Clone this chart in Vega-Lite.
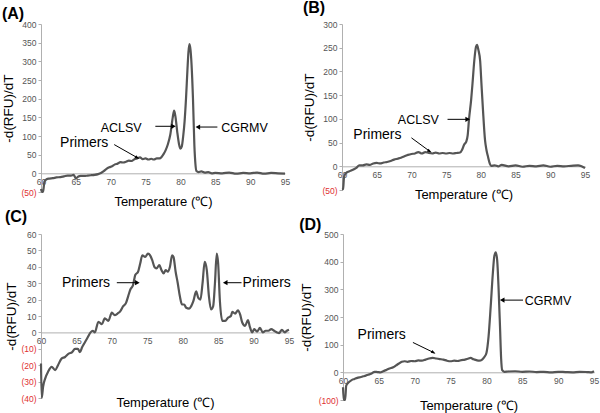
{
  "$schema": "https://vega.github.io/schema/vega-lite/v6.json",
  "padding": {"left": 1, "top": 0, "right": 1, "bottom": 0},
  "background": "white",
  "config": {
    "view": {"stroke": null},
    "font": "Liberation Sans",
    "title": {"anchor": "start", "fontSize": 16, "fontWeight": "bold", "color": "black", "frame": "bounds"},
    "axisX": {"values": [60, 65, 70, 75, 80, 85, 90, 95], "ticks": false, "domainColor": "#b0b0b0", "domainWidth": 1, "labelFontSize": 8.5, "labelColor": "#555", "labelPadding": 4, "labelFlush": false, "labelOverlap": false, "grid": false, "titleFontSize": 13, "titleFontWeight": "normal", "titleColor": "black", "titleBaseline": "alphabetic"},
    "axisY": {"labelExpr": "datum.value < 0 ? '(' + abs(datum.value) + ')' : datum.label", "labelColor": {"condition": {"test": "datum.value < 0", "value": "#e03030"}, "value": "#555"}, "labelFontSize": 8.5, "labelOverlap": false, "labelBound": false, "domainColor": "#b0b0b0", "tickColor": "#b0b0b0", "tickSize": 3, "grid": false, "titleFontSize": 13.5, "titleFontWeight": "normal", "titleColor": "black", "titlePadding": 5}
  },
  "datasets": {
    "curveA": [
      {"t": 60.0, "v": -42}, {"t": 60.15, "v": -50}, {"t": 60.3, "v": -48}, {"t": 60.5, "v": -22}, {"t": 60.8, "v": -16}, {"t": 61.2, "v": -14}, {"t": 61.7, "v": -13}, {"t": 62.2, "v": -11}, {"t": 62.8, "v": -10}, {"t": 63.3, "v": -8}, {"t": 63.8, "v": -6}, {"t": 64.3, "v": -6}, {"t": 64.7, "v": -4}, {"t": 65.0, "v": -14}, {"t": 65.3, "v": -9}, {"t": 65.7, "v": -7}, {"t": 66.2, "v": -7}, {"t": 66.7, "v": -6}, {"t": 67.2, "v": -5}, {"t": 67.7, "v": -4}, {"t": 68.2, "v": -2}, {"t": 68.6, "v": 1}, {"t": 69.0, "v": 6}, {"t": 69.4, "v": 12}, {"t": 69.8, "v": 16}, {"t": 70.2, "v": 19}, {"t": 70.6, "v": 24}, {"t": 71.0, "v": 26}, {"t": 71.4, "v": 30}, {"t": 71.8, "v": 29}, {"t": 72.2, "v": 31}, {"t": 72.6, "v": 34}, {"t": 73.0, "v": 33}, {"t": 73.4, "v": 38}, {"t": 73.8, "v": 40}, {"t": 74.2, "v": 43}, {"t": 74.6, "v": 38}, {"t": 75.0, "v": 40}, {"t": 75.4, "v": 37}, {"t": 75.8, "v": 39}, {"t": 76.2, "v": 37}, {"t": 76.6, "v": 40}, {"t": 77.0, "v": 40}, {"t": 77.3, "v": 44}, {"t": 77.6, "v": 52}, {"t": 77.9, "v": 63}, {"t": 78.2, "v": 78}, {"t": 78.55, "v": 104}, {"t": 78.9, "v": 150}, {"t": 79.1, "v": 168}, {"t": 79.3, "v": 150}, {"t": 79.55, "v": 110}, {"t": 79.8, "v": 78}, {"t": 80.0, "v": 66}, {"t": 80.2, "v": 72}, {"t": 80.4, "v": 100}, {"t": 80.6, "v": 140}, {"t": 80.8, "v": 200}, {"t": 81.0, "v": 275}, {"t": 81.15, "v": 325}, {"t": 81.3, "v": 346}, {"t": 81.45, "v": 330}, {"t": 81.6, "v": 290}, {"t": 81.8, "v": 200}, {"t": 82.0, "v": 75}, {"t": 82.15, "v": 25}, {"t": 82.3, "v": 6}, {"t": 82.6, "v": 3}, {"t": 83.0, "v": 5}, {"t": 83.5, "v": 2}, {"t": 84.0, "v": 3}, {"t": 84.5, "v": 0}, {"t": 85.0, "v": 1}, {"t": 86.0, "v": 0}, {"t": 87.0, "v": 2}, {"t": 88.0, "v": -1}, {"t": 89.0, "v": 1}, {"t": 90.0, "v": 0}, {"t": 91.0, "v": 2}, {"t": 92.0, "v": -1}, {"t": 93.0, "v": 1}, {"t": 94.0, "v": 0}, {"t": 95.0, "v": -1}
    ],
    "curveB": [
      {"t": 60.0, "v": -49}, {"t": 60.15, "v": -48}, {"t": 60.3, "v": -22}, {"t": 60.6, "v": -14}, {"t": 61.0, "v": -11}, {"t": 61.5, "v": -8}, {"t": 62.0, "v": -4}, {"t": 62.5, "v": 2}, {"t": 63.0, "v": 2}, {"t": 63.5, "v": 4}, {"t": 64.0, "v": 3}, {"t": 64.5, "v": 6}, {"t": 65.0, "v": 7}, {"t": 65.5, "v": 6}, {"t": 66.0, "v": 8}, {"t": 66.5, "v": 9}, {"t": 67.0, "v": 11}, {"t": 67.5, "v": 14}, {"t": 68.0, "v": 16}, {"t": 68.5, "v": 18}, {"t": 69.0, "v": 21}, {"t": 69.5, "v": 24}, {"t": 70.0, "v": 26}, {"t": 70.5, "v": 27}, {"t": 71.0, "v": 30}, {"t": 71.5, "v": 27}, {"t": 72.0, "v": 30}, {"t": 72.5, "v": 28}, {"t": 73.0, "v": 27}, {"t": 73.5, "v": 29}, {"t": 74.0, "v": 27}, {"t": 74.5, "v": 28}, {"t": 75.0, "v": 27}, {"t": 75.5, "v": 28}, {"t": 76.0, "v": 27}, {"t": 76.5, "v": 28}, {"t": 77.0, "v": 29}, {"t": 77.3, "v": 35}, {"t": 77.6, "v": 46}, {"t": 77.9, "v": 52}, {"t": 78.1, "v": 65}, {"t": 78.3, "v": 100}, {"t": 78.6, "v": 140}, {"t": 78.8, "v": 175}, {"t": 79.05, "v": 222}, {"t": 79.3, "v": 252}, {"t": 79.45, "v": 256}, {"t": 79.65, "v": 245}, {"t": 79.9, "v": 222}, {"t": 80.1, "v": 170}, {"t": 80.3, "v": 120}, {"t": 80.6, "v": 55}, {"t": 80.8, "v": 35}, {"t": 81.0, "v": 22}, {"t": 81.3, "v": 5}, {"t": 81.5, "v": 1}, {"t": 82.0, "v": 2}, {"t": 82.5, "v": 0}, {"t": 83.0, "v": 3}, {"t": 84.0, "v": 0}, {"t": 85.0, "v": 2}, {"t": 86.0, "v": -1}, {"t": 87.0, "v": 1}, {"t": 88.0, "v": 0}, {"t": 89.0, "v": 2}, {"t": 90.0, "v": -1}, {"t": 91.0, "v": 1}, {"t": 92.0, "v": 0}, {"t": 93.0, "v": 1}, {"t": 94.0, "v": 2}, {"t": 94.5, "v": 0}, {"t": 95.0, "v": -4}
    ],
    "curveC": [
      {"t": 60.0, "v": -19}, {"t": 60.1, "v": -40}, {"t": 60.3, "v": -33}, {"t": 60.6, "v": -28}, {"t": 61.0, "v": -24}, {"t": 61.5, "v": -21}, {"t": 62.0, "v": -23}, {"t": 62.4, "v": -20}, {"t": 62.9, "v": -16}, {"t": 63.4, "v": -15}, {"t": 63.9, "v": -13}, {"t": 64.4, "v": -12}, {"t": 64.8, "v": -10}, {"t": 65.2, "v": -10}, {"t": 65.5, "v": -12}, {"t": 65.8, "v": -9}, {"t": 66.2, "v": -6}, {"t": 66.6, "v": -3}, {"t": 67.0, "v": 0}, {"t": 67.3, "v": 1}, {"t": 67.6, "v": 0}, {"t": 68.1, "v": 6.5}, {"t": 68.6, "v": 5}, {"t": 69.0, "v": 8.6}, {"t": 69.5, "v": 7}, {"t": 70.0, "v": 12}, {"t": 70.4, "v": 10.5}, {"t": 70.8, "v": 11.5}, {"t": 71.2, "v": 13}, {"t": 71.6, "v": 16}, {"t": 72.0, "v": 18}, {"t": 72.3, "v": 22}, {"t": 72.6, "v": 26}, {"t": 73.0, "v": 29}, {"t": 73.3, "v": 35}, {"t": 73.7, "v": 37}, {"t": 74.0, "v": 42}, {"t": 74.3, "v": 47}, {"t": 74.7, "v": 46}, {"t": 75.1, "v": 48}, {"t": 75.4, "v": 47}, {"t": 75.7, "v": 44}, {"t": 76.0, "v": 40}, {"t": 76.3, "v": 39}, {"t": 76.7, "v": 41}, {"t": 77.0, "v": 38}, {"t": 77.3, "v": 36}, {"t": 77.6, "v": 38}, {"t": 77.9, "v": 37}, {"t": 78.2, "v": 40}, {"t": 78.5, "v": 47}, {"t": 78.7, "v": 46}, {"t": 79.0, "v": 37}, {"t": 79.3, "v": 30}, {"t": 79.6, "v": 22}, {"t": 79.9, "v": 17}, {"t": 80.2, "v": 17}, {"t": 80.5, "v": 15}, {"t": 80.9, "v": 14.5}, {"t": 81.2, "v": 16}, {"t": 81.5, "v": 19}, {"t": 81.9, "v": 25}, {"t": 82.2, "v": 21}, {"t": 82.5, "v": 20}, {"t": 82.8, "v": 30}, {"t": 83.1, "v": 43}, {"t": 83.4, "v": 38}, {"t": 83.7, "v": 22}, {"t": 84.0, "v": 14}, {"t": 84.3, "v": 16}, {"t": 84.55, "v": 30}, {"t": 84.8, "v": 48}, {"t": 85.0, "v": 42}, {"t": 85.25, "v": 19}, {"t": 85.6, "v": 7}, {"t": 86.0, "v": 7}, {"t": 86.4, "v": 9}, {"t": 86.8, "v": 10}, {"t": 87.0, "v": 12.5}, {"t": 87.4, "v": 11.5}, {"t": 87.8, "v": 13.5}, {"t": 88.1, "v": 11}, {"t": 88.4, "v": 6}, {"t": 88.8, "v": 4}, {"t": 89.2, "v": 7.5}, {"t": 89.5, "v": 3}, {"t": 89.8, "v": 0}, {"t": 90.1, "v": 2}, {"t": 90.5, "v": 0.5}, {"t": 90.9, "v": 2.7}, {"t": 91.3, "v": 0}, {"t": 91.7, "v": 1}, {"t": 92.1, "v": 1}, {"t": 92.5, "v": 2}, {"t": 92.9, "v": 1}, {"t": 93.3, "v": 0}, {"t": 93.6, "v": -0.4}, {"t": 94.0, "v": 1.6}, {"t": 94.4, "v": 0}, {"t": 94.7, "v": 1}, {"t": 95.0, "v": 1.6}
    ],
    "curveD": [
      {"t": 60.0, "v": -54}, {"t": 60.1, "v": -100}, {"t": 60.3, "v": -100}, {"t": 60.45, "v": -48}, {"t": 60.8, "v": -36}, {"t": 61.2, "v": -28}, {"t": 61.6, "v": -24}, {"t": 62.0, "v": -20}, {"t": 62.5, "v": -17}, {"t": 63.0, "v": -13}, {"t": 63.5, "v": -9}, {"t": 64.0, "v": -4}, {"t": 64.4, "v": 2}, {"t": 64.8, "v": 1}, {"t": 65.2, "v": 0}, {"t": 65.6, "v": 4}, {"t": 66.0, "v": 8}, {"t": 66.5, "v": 14}, {"t": 67.0, "v": 18}, {"t": 67.4, "v": 25}, {"t": 67.8, "v": 32}, {"t": 68.2, "v": 38}, {"t": 68.6, "v": 40}, {"t": 69.0, "v": 38}, {"t": 69.5, "v": 41}, {"t": 70.0, "v": 40}, {"t": 70.5, "v": 43}, {"t": 71.0, "v": 42}, {"t": 71.5, "v": 46}, {"t": 72.0, "v": 50}, {"t": 72.5, "v": 52}, {"t": 73.0, "v": 50}, {"t": 73.5, "v": 48}, {"t": 74.0, "v": 46}, {"t": 74.5, "v": 42}, {"t": 75.0, "v": 40}, {"t": 75.5, "v": 42}, {"t": 76.0, "v": 41}, {"t": 76.5, "v": 44}, {"t": 77.0, "v": 46}, {"t": 77.5, "v": 50}, {"t": 77.8, "v": 52}, {"t": 78.2, "v": 47}, {"t": 78.6, "v": 44}, {"t": 79.0, "v": 42}, {"t": 79.4, "v": 46}, {"t": 79.7, "v": 55}, {"t": 80.0, "v": 70}, {"t": 80.3, "v": 130}, {"t": 80.6, "v": 240}, {"t": 80.9, "v": 360}, {"t": 81.1, "v": 420}, {"t": 81.3, "v": 434}, {"t": 81.5, "v": 405}, {"t": 81.7, "v": 300}, {"t": 81.9, "v": 160}, {"t": 82.05, "v": 50}, {"t": 82.2, "v": 8}, {"t": 82.5, "v": 2}, {"t": 83.0, "v": 3}, {"t": 84.0, "v": 4}, {"t": 85.0, "v": 2}, {"t": 86.0, "v": 3}, {"t": 87.0, "v": 1}, {"t": 88.0, "v": 2}, {"t": 89.0, "v": 0}, {"t": 90.0, "v": 2}, {"t": 91.0, "v": 1}, {"t": 92.0, "v": 0}, {"t": 93.0, "v": 2}, {"t": 94.0, "v": 1}, {"t": 94.6, "v": 0}, {"t": 95.0, "v": 4}
    ],
    "labelsA": [{"t": 71.5, "v": 122, "text": "ACLSV"}, {"t": 89.2, "v": 122, "text": "CGRMV"}, {"t": 66.2, "v": 81, "text": "Primers"}],
    "arrowsA": [{"t": 79.0, "v": 126, "t2": 76.4, "v2": 126, "dir": "right"}, {"t": 82.5, "v": 124, "t2": 85.3, "v2": 124, "dir": "left"}, {"t": 73.8, "v": 42, "t2": 70.5, "v2": 77, "dir": "diag"}],
    "labelsB": [{"t": 71.0, "v": 97, "text": "ACLSV"}, {"t": 65.1, "v": 66, "text": "Primers"}],
    "arrowsB": [{"t": 78.1, "v": 99, "t2": 75.2, "v2": 99, "dir": "right"}, {"t": 72.6, "v": 32, "t2": 70.0, "v2": 60, "dir": "diag"}],
    "labelsC": [{"t": 66.35, "v": 30.3, "text": "Primers"}, {"t": 91.85, "v": 30.3, "text": "Primers"}],
    "arrowsC": [{"t": 73.6, "v": 30.3, "t2": 70.7, "v2": 30.3, "dir": "right"}, {"t": 86.0, "v": 30.3, "t2": 88.3, "v2": 30.3, "dir": "left"}],
    "labelsD": [{"t": 88.6, "v": 259, "text": "CGRMV"}, {"t": 65.4, "v": 135, "text": "Primers"}],
    "arrowsD": [{"t": 82.2, "v": 261, "t2": 85.1, "v2": 261, "dir": "left"}, {"t": 72.6, "v": 72, "t2": 69.75, "v2": 108, "dir": "diag"}]
  },
  "vconcat": [
    {
      "hconcat": [
        {
          "title": {"text": "(A)", "offset": -2},
          "width": 244, "height": 168,
          "encoding": {"x": {"field": "t", "type": "quantitative", "scale": {"domain": [60, 95]}, "axis": {"title": "Temperature (℃)", "offset": -18.7, "titleY": 32}},
                       "y": {"field": "v", "type": "quantitative", "scale": {"domain": [-50, 400]}, "axis": {"title": "-d(RFU)/dT", "labelOverlap": false, "values": [-50, 0, 50, 100, 150, 200, 250, 300, 350, 400]}}},
          "layer": [
            {"data": {"name": "curveA"}, "mark": {"type": "line", "color": "#555555", "strokeWidth": 2.2, "interpolate": "monotone"}},
            {"data": {"name": "arrowsA"}, "mark": {"type": "rule", "color": "black", "strokeWidth": 1}, "encoding": {"x2": {"field": "t2"}, "y2": {"field": "v2"}}},
            {"data": {"name": "arrowsA"}, "transform": [{"filter": "datum.dir == 'right'"}], "mark": {"type": "point", "shape": "triangle-right", "filled": true, "color": "black", "opacity": 1, "size": 28}},
            {"data": {"name": "arrowsA"}, "transform": [{"filter": "datum.dir == 'left'"}], "mark": {"type": "point", "shape": "triangle-left", "filled": true, "color": "black", "opacity": 1, "size": 28}},
            {"data": {"name": "arrowsA"}, "transform": [{"filter": "datum.dir == 'diag'"}], "mark": {"type": "point", "shape": "M0.87,0.5L-0.99,0.12L-0.39,-0.92Z", "filled": true, "color": "black", "opacity": 1, "size": 28}},
            {"data": {"name": "labelsA"}, "mark": {"type": "text", "color": "black", "align": "center", "baseline": "middle"},
             "encoding": {"text": {"field": "text"}, "size": {"condition": {"test": "datum.text == 'Primers'", "value": 14}, "value": 12.5}}}
          ]
        },
        {
          "title": {"text": "(B)", "offset": 4},
          "width": 243, "height": 166,
          "encoding": {"x": {"field": "t", "type": "quantitative", "scale": {"domain": [60, 95]}, "axis": {"title": "Temperature (℃)", "offset": -23.7, "titleY": 32}},
                       "y": {"field": "v", "type": "quantitative", "scale": {"domain": [-50, 300]}, "axis": {"title": "-d(RFU)/dT", "labelOverlap": false, "values": [-50, 0, 50, 100, 150, 200, 250, 300]}}},
          "layer": [
            {"data": {"name": "curveB"}, "mark": {"type": "line", "color": "#555555", "strokeWidth": 2.2, "interpolate": "monotone"}},
            {"data": {"name": "arrowsB"}, "mark": {"type": "rule", "color": "black", "strokeWidth": 1}, "encoding": {"x2": {"field": "t2"}, "y2": {"field": "v2"}}},
            {"data": {"name": "arrowsB"}, "transform": [{"filter": "datum.dir == 'right'"}], "mark": {"type": "point", "shape": "triangle-right", "filled": true, "color": "black", "opacity": 1, "size": 28}},
            {"data": {"name": "arrowsB"}, "transform": [{"filter": "datum.dir == 'diag'"}], "mark": {"type": "point", "shape": "M0.87,0.5L-0.99,0.12L-0.39,-0.92Z", "filled": true, "color": "black", "opacity": 1, "size": 28}},
            {"data": {"name": "labelsB"}, "mark": {"type": "text", "color": "black", "align": "center", "baseline": "middle"},
             "encoding": {"text": {"field": "text"}, "size": {"condition": {"test": "datum.text == 'Primers'", "value": 14}, "value": 12.5}}}
          ]
        }
      ],
      "spacing": 12
    },
    {
      "hconcat": [
        {
          "title": {"text": "(C)", "offset": 5},
          "width": 248, "height": 164,
          "encoding": {"x": {"field": "t", "type": "quantitative", "scale": {"domain": [60, 95]}, "axis": {"title": "Temperature (℃)", "offset": -65.6, "titleY": 74}},
                       "y": {"field": "v", "type": "quantitative", "scale": {"domain": [-40, 60]}, "axis": {"title": "-d(RFU)/dT", "titlePadding": 2, "labelOverlap": false, "values": [-40, -30, -20, -10, 0, 10, 20, 30, 40, 50, 60]}}},
          "layer": [
            {"data": {"name": "curveC"}, "mark": {"type": "line", "color": "#555555", "strokeWidth": 2.2, "interpolate": "monotone"}},
            {"data": {"name": "arrowsC"}, "mark": {"type": "rule", "color": "black", "strokeWidth": 1}, "encoding": {"x2": {"field": "t2"}, "y2": {"field": "v2"}}},
            {"data": {"name": "arrowsC"}, "transform": [{"filter": "datum.dir == 'right'"}], "mark": {"type": "point", "shape": "triangle-right", "filled": true, "color": "black", "opacity": 1, "size": 28}},
            {"data": {"name": "arrowsC"}, "transform": [{"filter": "datum.dir == 'left'"}], "mark": {"type": "point", "shape": "triangle-left", "filled": true, "color": "black", "opacity": 1, "size": 28}},
            {"data": {"name": "labelsC"}, "mark": {"type": "text", "color": "black", "align": "center", "baseline": "middle"},
             "encoding": {"text": {"field": "text"}, "size": {"condition": {"test": "datum.text == 'Primers'", "value": 14}, "value": 12.5}}}
          ]
        },
        {
          "title": {"text": "(D)", "offset": -3},
          "width": 251, "height": 166,
          "encoding": {"x": {"field": "t", "type": "quantitative", "scale": {"domain": [60, 95]}, "axis": {"title": "Temperature (℃)", "offset": -27.7, "titleY": 37}},
                       "y": {"field": "v", "type": "quantitative", "scale": {"domain": [-100, 500]}, "axis": {"title": "-d(RFU)/dT", "labelOverlap": false, "values": [-100, 0, 100, 200, 300, 400, 500]}}},
          "layer": [
            {"data": {"name": "curveD"}, "mark": {"type": "line", "color": "#555555", "strokeWidth": 2.2, "interpolate": "monotone"}},
            {"data": {"name": "arrowsD"}, "mark": {"type": "rule", "color": "black", "strokeWidth": 1}, "encoding": {"x2": {"field": "t2"}, "y2": {"field": "v2"}}},
            {"data": {"name": "arrowsD"}, "transform": [{"filter": "datum.dir == 'left'"}], "mark": {"type": "point", "shape": "triangle-left", "filled": true, "color": "black", "opacity": 1, "size": 28}},
            {"data": {"name": "arrowsD"}, "transform": [{"filter": "datum.dir == 'diag'"}], "mark": {"type": "point", "shape": "M0.87,0.5L-0.99,0.12L-0.39,-0.92Z", "filled": true, "color": "black", "opacity": 1, "size": 28}},
            {"data": {"name": "labelsD"}, "mark": {"type": "text", "color": "black", "align": "center", "baseline": "middle"},
             "encoding": {"text": {"field": "text"}, "size": {"condition": {"test": "datum.text == 'Primers'", "value": 14}, "value": 12.5}}}
          ]
        }
      ],
      "spacing": 5
    }
  ],
  "spacing": 0
}
